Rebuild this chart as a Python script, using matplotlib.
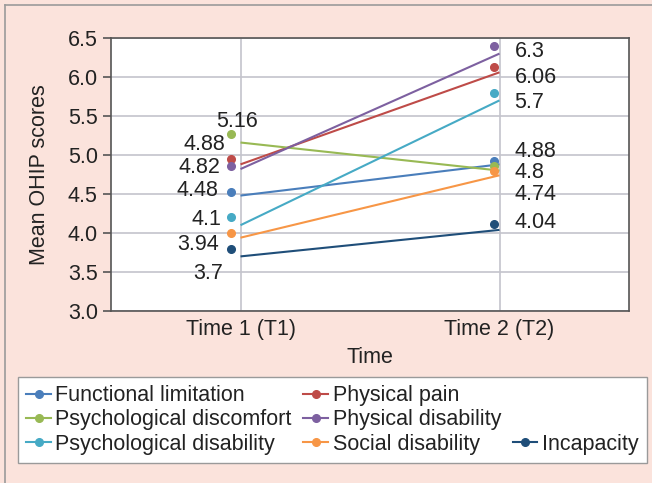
import matplotlib
matplotlib.use("Agg")
import matplotlib.pyplot as plt
import matplotlib.transforms as mtransforms
from matplotlib.lines import Line2D

plt.rcParams['font.family'] = ['Liberation Sans', 'DejaVu Sans']

times = ["Time 1 (T1)", "Time 2 (T2)"]
series = ["Functional limitation", "Physical pain", "Psychological discomfort",
          "Physical disability", "Psychological disability", "Social disability",
          "Incapacity"]
colors = ["#4a7ebb", "#be4b48", "#98b954", "#7d60a0", "#46aac5", "#f79646", "#1f4e79"]

# line values (the printed labels)
t1 = [4.48, 4.88, 5.16, 4.82, 4.1, 3.94, 3.7]
t2 = [4.88, 6.06, 4.8, 6.3, 5.7, 4.74, 4.04]
# dot values (drawn slightly apart from the lines in the original)
dot_t1 = [4.53, 4.95, 5.27, 4.86, 4.20, 4.00, 3.80]
dot_t2 = [4.92, 6.13, 4.86, 6.40, 5.79, 4.80, 4.12]

# label offsets in pixels
lab1_off = [(-22, 5), (-15, 20), (17, 21), (-20, 2), (-19, 6), (-22, -7), (-17, -17)]
lab2_off = [(15, 13), (15, -5), (15, -2), (15, 2), (15, -2), (15, -19), (15, 7)]

FS = 15.5
TXT = "#222222"

fig = plt.figure(figsize=(6.52, 4.83), dpi=100, facecolor="#fbe3dc")
W, H = 652, 483
ax = fig.add_axes([111 / W, 1 - 311 / H, (629 - 111) / W, (311 - 38) / H])
ax.set_facecolor("white")

# figure border (left and top)
fig.add_artist(Line2D([5 / W, 5 / W], [0, 1 - 5 / H], color="#9a9a9a", lw=1.2))
fig.add_artist(Line2D([5 / W, 1], [1 - 5 / H, 1 - 5 / H], color="#9a9a9a", lw=1.2))

x = [1, 2]
shift1 = mtransforms.ScaledTranslation(-0.10, 0, fig.dpi_scale_trans)
shift2 = mtransforms.ScaledTranslation(-0.06, 0, fig.dpi_scale_trans)

for i, name in enumerate(series):
    c = colors[i]
    ax.plot(x, [t1[i], t2[i]], color=c, lw=1.5, zorder=3, solid_capstyle="butt")
    ax.plot([1], [dot_t1[i]], 'o', color=c, ms=5.5, transform=ax.transData + shift1, zorder=4)
    ax.plot([2], [dot_t2[i]], 'o', color=c, ms=5.5, transform=ax.transData + shift2, zorder=4)
    dx, dy = lab1_off[i]
    ax.annotate(f"{t1[i]:g}", (1, t1[i]), xytext=(dx, dy), textcoords="offset pixels",
                ha="right", va="center", fontsize=FS, color=TXT)
    dx, dy = lab2_off[i]
    ax.annotate(f"{t2[i]:g}", (2, t2[i]), xytext=(dx, dy), textcoords="offset pixels",
                ha="left", va="center", fontsize=FS, color=TXT)

ax.set_xlim(0.5, 2.5)
ax.set_ylim(3.0, 6.5)
ax.set_yticks([3.0, 3.5, 4.0, 4.5, 5.0, 5.5, 6.0, 6.5])
ax.set_yticklabels([f"{v:.1f}" for v in ax.get_yticks()])
ax.set_xticks(x)
ax.set_xticklabels(times)
ax.grid(True, color="#c4c4cc", lw=1.2, zorder=0)
ax.set_axisbelow(True)
for s in ax.spines.values():
    s.set_color("#555555")
    s.set_linewidth(1.2)
ax.tick_params(axis="y", length=6, width=1.2, color="#555555", pad=3.5, labelsize=FS,
               labelcolor=TXT)
ax.tick_params(axis="x", length=0, pad=6, labelsize=FS, labelcolor=TXT)
ax.set_xlabel("Time", fontsize=FS, color=TXT, labelpad=5)
ax.set_ylabel("Mean OHIP scores", fontsize=FS, color=TXT, labelpad=13)

handles = [Line2D([], [], color=colors[i], lw=1.5, marker='o', ms=5.5) for i in range(7)]
blank = Line2D([], [], color="none")
order = [0, 2, 4, 1, 3, 5]
leg_h = [handles[k] for k in order] + [blank, blank, handles[6]]
leg_l = [series[k] for k in order] + ["", "", series[6]]
leg = fig.legend(leg_h, leg_l, ncol=3, loc="upper left",
                 bbox_to_anchor=(18 / W, 1 - 377 / H), borderaxespad=0, fontsize=FS,
                 frameon=True, fancybox=False, edgecolor="#9a9a9a", framealpha=1,
                 facecolor="white", handlelength=1.15, handletextpad=0.2,
                 columnspacing=0.55, labelspacing=0.15, borderpad=0.38)
leg.get_frame().set_linewidth(1.0)
for t in leg.get_texts():
    t.set_color(TXT)

fig.savefig("out.png", dpi=100, facecolor=fig.get_facecolor())
